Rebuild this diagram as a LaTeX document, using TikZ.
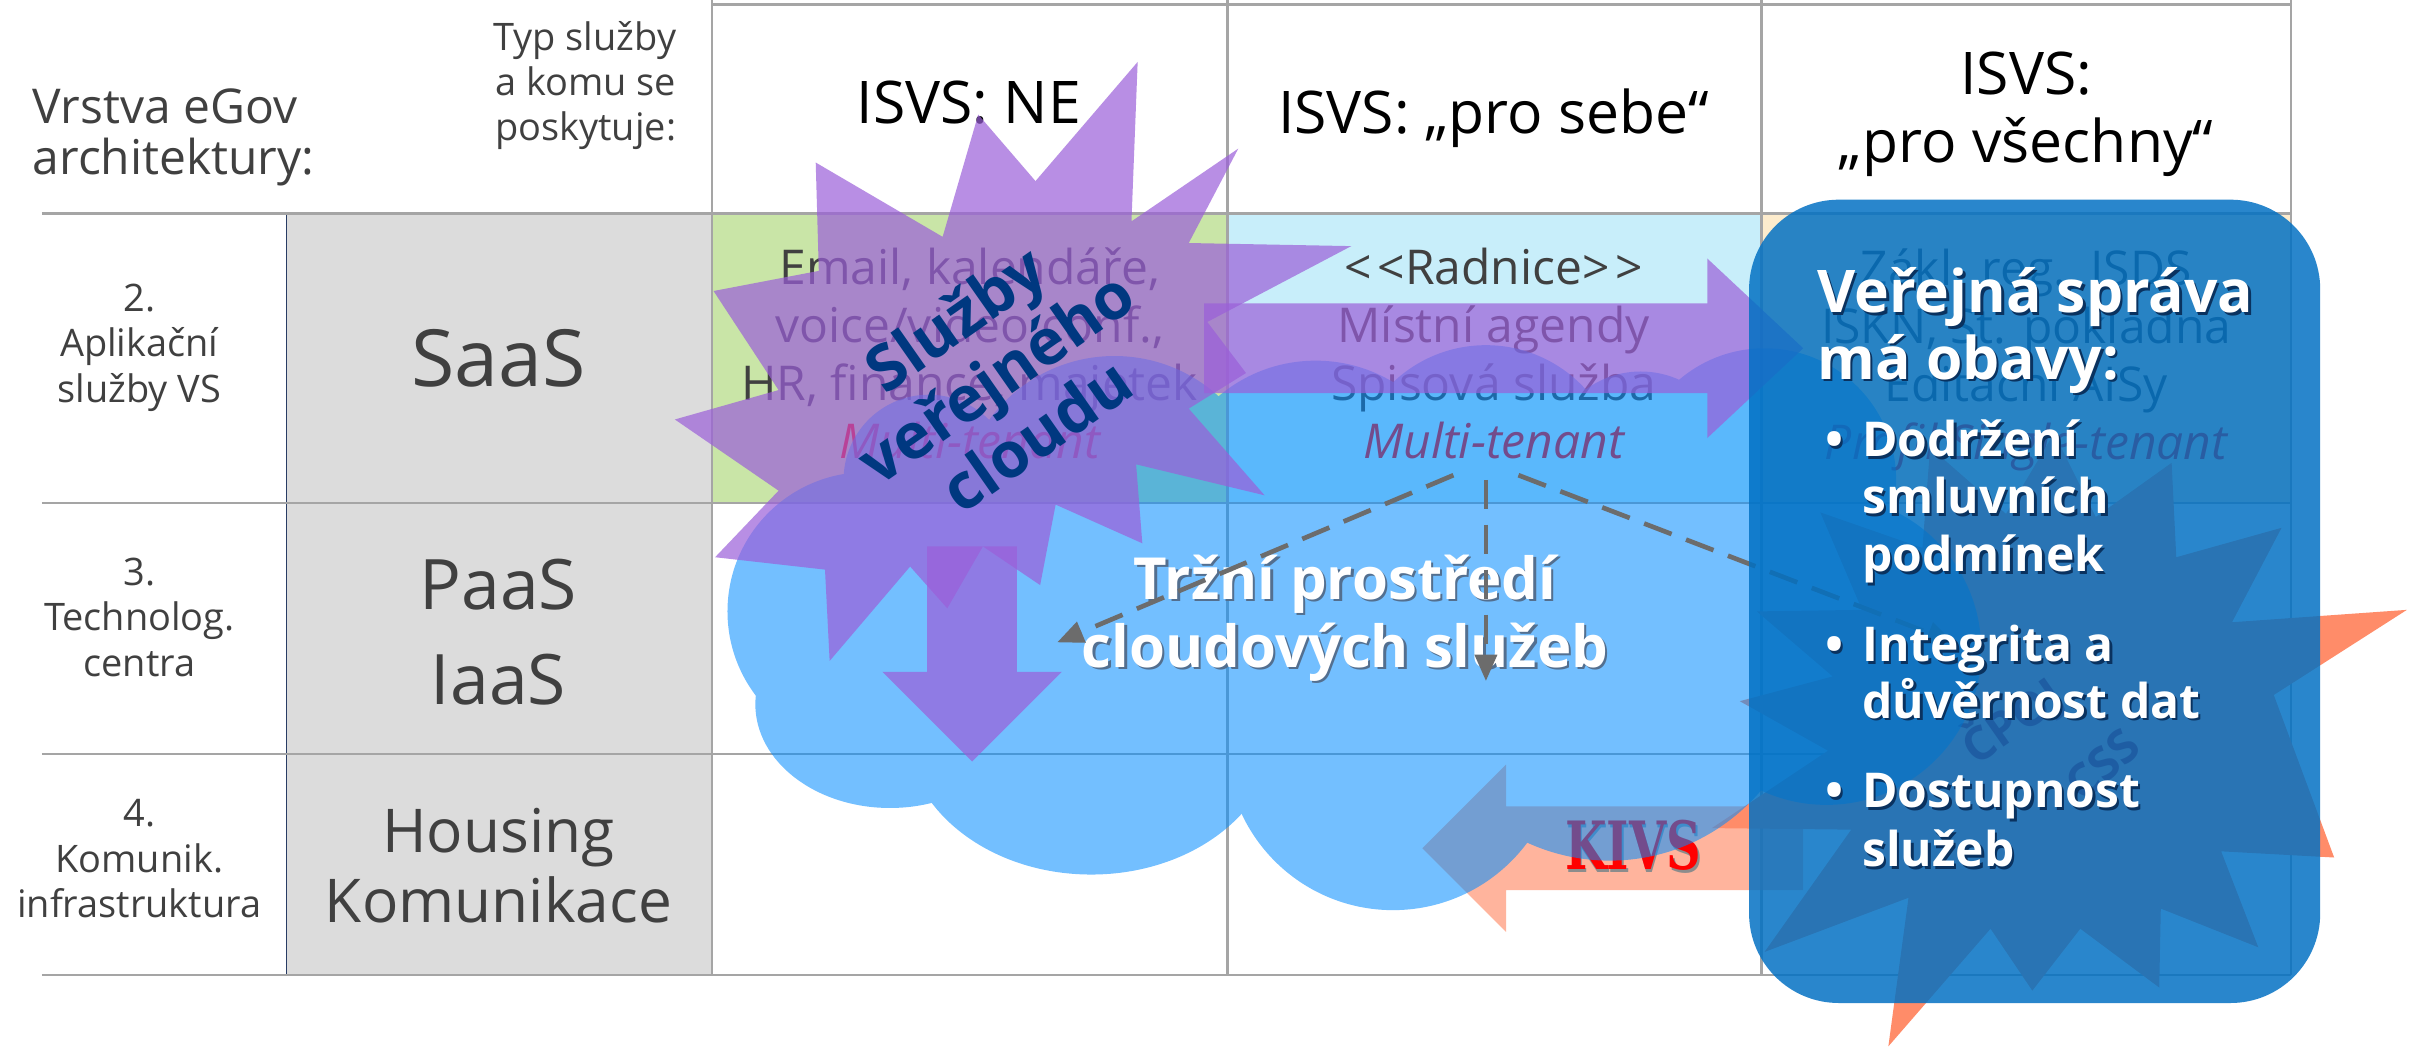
\documentclass[tikz,border=0pt]{standalone}
\usepackage{fontspec}
\setmainfont{Open Sans}
\newfontfamily\kivsfont{DejaVu Serif}
\usetikzlibrary{arrows.meta}

\definecolor{txtgray}{RGB}{64,64,64}
\definecolor{gridgray}{RGB}{165,165,165}
\definecolor{cellgreen}{RGB}{201,229,167}
\definecolor{cellcyan}{RGB}{200,238,250}
\definecolor{cellyellow}{RGB}{253,236,205}
\definecolor{boxgray}{RGB}{220,220,220}
\definecolor{navyline}{RGB}{40,60,100}
\definecolor{cloudblue}{RGB}{0,140,255}
\definecolor{starpurple}{RGB}{155,95,217}
\definecolor{kivsorange}{RGB}{255,140,105}
\definecolor{boxblue}{RGB}{0,112,195}
\definecolor{starnavy}{RGB}{0,56,128}
\definecolor{dashgray}{RGB}{108,108,108}
\definecolor{shadowblue}{RGB}{10,50,95}

\newcommand{\fsz}[2]{\fontsize{#1}{#2}\selectfont}
\newcommand{\shtext}[2]{\makebox[0pt][l]{\hspace{1.6pt}\raisebox{-1.6pt}{\textcolor{#1}{#2}}}#2}

\begin{document}
\begin{tikzpicture}[x=1pt, y=-1pt,
    gridline/.style={draw=gridgray, line width=1.6pt},
    graybox/.style={fill=boxgray, draw=navyline, line width=0.8pt},
    hdr/.style={font=\fsz{38}{44}, text=black, align=center, inner sep=0pt, anchor=base},
    celltext/.style={font=\fsz{31}{37.5}, text=txtgray, align=center, inner sep=0pt, anchor=base},
    rowlabel/.style={font=\fsz{24.5}{29.5}, text=txtgray, align=center, inner sep=0pt, anchor=base},
    layertext/.style={text=txtgray, align=center, inner sep=0pt, anchor=base},
    purplefill/.style={fill=starpurple, fill opacity=0.7},
    dasharrow/.style={draw=dashgray, line width=3pt, dash pattern=on 19pt off 10pt,
      -{Triangle[length=17pt, width=14pt]}},
    boxtext/.style={text=white, font=\bfseries\fsz{31}{37}, inner sep=0pt, anchor=base west}
  ]
    \useasboundingbox (0,0) rectangle (1568,678);
    \fill[white] (0,0) rectangle (1568,678);

    % Cells
    \fill[cellgreen] (460,138) rectangle (793,325);
    \fill[cellcyan] (793,138) rectangle (1138,325);
    \fill[cellyellow] (1138,138) rectangle (1480,325);
    \foreach \ya/\yb in {138/325, 325/487, 487/630}
      \draw[graybox] (185,\ya) rectangle (460,\yb);

    % Grid
    \draw[gridline] (460,3) -- (1480,3);
    \foreach \yy in {138,325,487,630}
      \draw[gridline] (27,\yy) -- (1480,\yy);
    \foreach \xx in {460,793,1138,1480}
      \draw[gridline] (\xx,0) -- (\xx,630);

    % Headings (multi-line nodes sit on their last baseline)
    \node[font=\fsz{31}{33}, text=txtgray, align=left, inner sep=0pt, anchor=base west] (vrstva)
      at (21,113) {Vrstva eGov\\architektury:};
    \node[font=\fsz{24.5}{29}, text=txtgray, align=right, inner sep=0pt, anchor=base east] (typ)
      at (437,90.5) {Typ služby\\a komu se\\poskytuje:};
    \node[hdr] (hne) at (626,80) {ISVS: NE};
    \node[hdr] (hsebe) at (965,86) {ISVS: „pro sebe“};
    \node[hdr] (hall) at (1309,105) {ISVS:\\„pro všechny“};

    % Layers
    \node[rowlabel] (lay2) at (90,260) {2.\\Aplikační\\služby VS};
    \node[rowlabel] (lay3) at (90,437) {3.\\Technolog.\\centra};
    \node[rowlabel] (lay4) at (90,593) {4.\\Komunik.\\infrastruktura};
    \node[layertext, font=\fsz{51}{60}] (saas) at (322,250) {SaaS};
    \node[layertext, font=\fsz{45}{61}] (paas) at (322,455) {PaaS\\IaaS};
    \node[layertext, font=\fsz{39}{45}] (housing) at (322,596) {Housing\\Komunikace};

    % Application services
    \node[celltext] (apne) at (626.5,296)
      {Email, kalendáře,\\voice/video conf.,\\HR, finance, majetek\\{\itshape\color{red}Multi-tenant}};
    \node[celltext] (apsebe) at (965,296)
      {<\kern4pt<Radnice>\kern4pt>\\Místní agendy\\Spisová služba\\{\itshape\color{red}Multi-tenant}};
    \node[celltext] (apall) at (1309,297)
      {Zákl. reg., ISDS\\ISKN, St. pokladna\\Editační AISy\\{\itshape\color{red}Profil Single-tenant}};

    % Orange star
    \fill[kivsorange] (1555,394) -- (1442,402) -- (1474,341) -- (1406,360) -- (1403,299)
      -- (1354,334) -- (1327,280) -- (1296,332) -- (1247,289) -- (1242,354) -- (1176,331)
      -- (1203,394) -- (1135,395) -- (1184,437) -- (1124,453) -- (1181,485) -- (1106,535)
      -- (1196,536) -- (1140,615) -- (1233,580) -- (1220,676) -- (1286,600) -- (1313,640)
      -- (1344,600) -- (1395,638) -- (1396,587) -- (1459,612) -- (1435,550) -- (1508,554)
      -- (1469,449) -- cycle;
    \node[font=\bfseries\fsz{30}{30}, text=red!75!black, rotate=35, inner sep=0pt] (cpoj) at (1300,466) {ČPOJ};
    \node[font=\bfseries\fsz{30}{30}, text=red!75!black, rotate=42, inner sep=0pt] (css) at (1358,494) {CSS};

    % KIVS arrow
    \fill[kivsorange, fill opacity=0.65] (1165,521) -- (973,521) -- (973,494) -- (919,548)
      -- (973,602) -- (973,575) -- (1165,575) -- cycle;
    \node[font=\kivsfont\bfseries\fsz{43}{43}, text=red, inner sep=0pt, anchor=base] (kivs) at (1055,562)
      {\scalebox{0.72}[1]{\shtext{black!45}{KIVS}}};

    % Cloud
    \begin{scope}[transparency group, opacity=0.55]
      \fill[cloudblue] (560,330) rectangle (1200,470);
      \fill[cloudblue] (600,310) circle[radius=55pt];
      \fill[cloudblue] (720,330) circle[radius=100pt];
      \fill[cloudblue] (850,330) circle[radius=97pt];
      \fill[cloudblue] (960,310) circle[radius=87pt];
      \fill[cloudblue] (1060,300) circle[radius=60pt];
      \fill[cloudblue] (1140,310) circle[radius=85pt];
      \fill[cloudblue] (560,395) circle[radius=90pt];
      \fill[cloudblue] (575,455) ellipse[x radius=87pt, y radius=67pt];
      \fill[cloudblue] (705,470) ellipse[x radius=120pt, y radius=95pt];
      \fill[cloudblue] (900,480) circle[radius=108pt];
      \fill[cloudblue] (1040,428) circle[radius=128pt];
      \fill[cloudblue] (1180,420) circle[radius=100pt];
    \end{scope}
    \node[font=\bfseries\fsz{37.5}{44}, text=white, inner sep=0pt, anchor=base] (trh1) at (869,387)
      {\shtext{shadowblue!70}{Tržní prostředí}};
    \node[font=\bfseries\fsz{37.5}{44}, text=white, inner sep=0pt, anchor=base] (trh2) at (869,431)
      {\shtext{shadowblue!70}{cloudových služeb}};

    % Dashed arrows
    \coordinate (fromL) at (939,307);
    \coordinate (fromC) at (960,310);
    \coordinate (fromR) at (981,307);
    \coordinate (toL) at (683,415);
    \coordinate (toC) at (960,440);
    \coordinate (toR) at (1262,415);
    \draw[dasharrow] (fromL) -- (toL);
    \draw[dasharrow] (fromC) -- (toC);
    \draw[dasharrow] (fromR) -- (toR);

    % Public cloud burst
    \fill[purplefill] (527,105) -- (609,153) -- (632,74) -- (669,117) -- (735,40) -- (731,143)
      -- (800,96) -- (768,157) -- (873,159) -- (780,208) -- (805,241) -- (768,264) -- (817,320)
      -- (734,300) -- (738,351) -- (682,326) -- (672,378) -- (635,353) -- (612,393) -- (588,366)
      -- (536,427) -- (533,368) -- (462,360) -- (503,317) -- (436,271) -- (503,252) -- (461,188)
      -- (529,175) -- cycle;
    \fill[purplefill] (778,196) -- (1103,196) -- (1103,167) -- (1165,225) -- (1103,283)
      -- (1103,254) -- (778,254) -- cycle;
    \fill[purplefill] (599,353) -- (657,353) -- (657,434) -- (686,434) -- (628,492)
      -- (570,434) -- (599,434) -- cycle;
    \node[font=\bfseries\fsz{41}{46}, text=starnavy, align=center, rotate=35, inner sep=0pt] (verej)
      at (643,243) {Služby\\veřejného\\cloudu};

    % Concerns box
    \fill[boxblue, fill opacity=0.84, rounded corners=58pt] (1130,129) rectangle (1499,648);
    \node[boxtext, font=\bfseries\fsz{38}{43}] (vs1) at (1174,202) {\shtext{shadowblue}{Veřejná správa}};
    \node[boxtext, font=\bfseries\fsz{38}{43}] (vs2) at (1174,245) {\shtext{shadowblue}{má obavy:}};
    \foreach \yy/\txt [count=\i] in {295/Dodržení, 332/smluvních, 369.5/podmínek,
        427.5/Integrita a, 464/důvěrnost dat, 522/Dostupnost, 560/služeb}
      \node[boxtext] (ob\i) at (1203,\yy) {\shtext{shadowblue}{\txt}};
    \foreach \yy [count=\i] in {295,427.5,522}
      \node[boxtext] (bul\i) at (1179,\yy) {\shtext{shadowblue}{•}};
\end{tikzpicture}
\end{document}
